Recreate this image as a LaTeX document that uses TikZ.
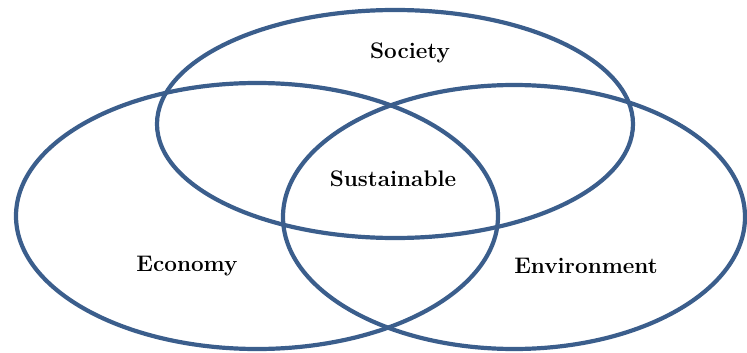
\documentclass[tikz,border=0pt]{standalone}
\usepackage{tikz}
\usetikzlibrary{positioning}
\definecolor{ringblue}{HTML}{3B5E8C}

\begin{document}
\begin{tikzpicture}[
    x=1pt, y=-1pt,
    ring/.style={draw=ringblue, line width=4.2pt},
    lbl/.style={font=\fontsize{22.5}{26}\selectfont\bfseries, text=black}
]
    \useasboundingbox (0,0) rectangle (747,353);
    % the three circles
    \draw[ring] (395,124) ellipse (238 and 114);
    \draw[ring] (257,216) ellipse (241 and 133);
    \draw[ring] (514,217) ellipse (231 and 132);

    \node[lbl] (society) at (410,53) {Society};
    \node[lbl] (sustainable) at (393,179) {Sustainable};
    \node[lbl] (economy) at (187,266) {Economy};
    \node[lbl] (environment) at (586,266) {Environment};
\end{tikzpicture}
\end{document}
